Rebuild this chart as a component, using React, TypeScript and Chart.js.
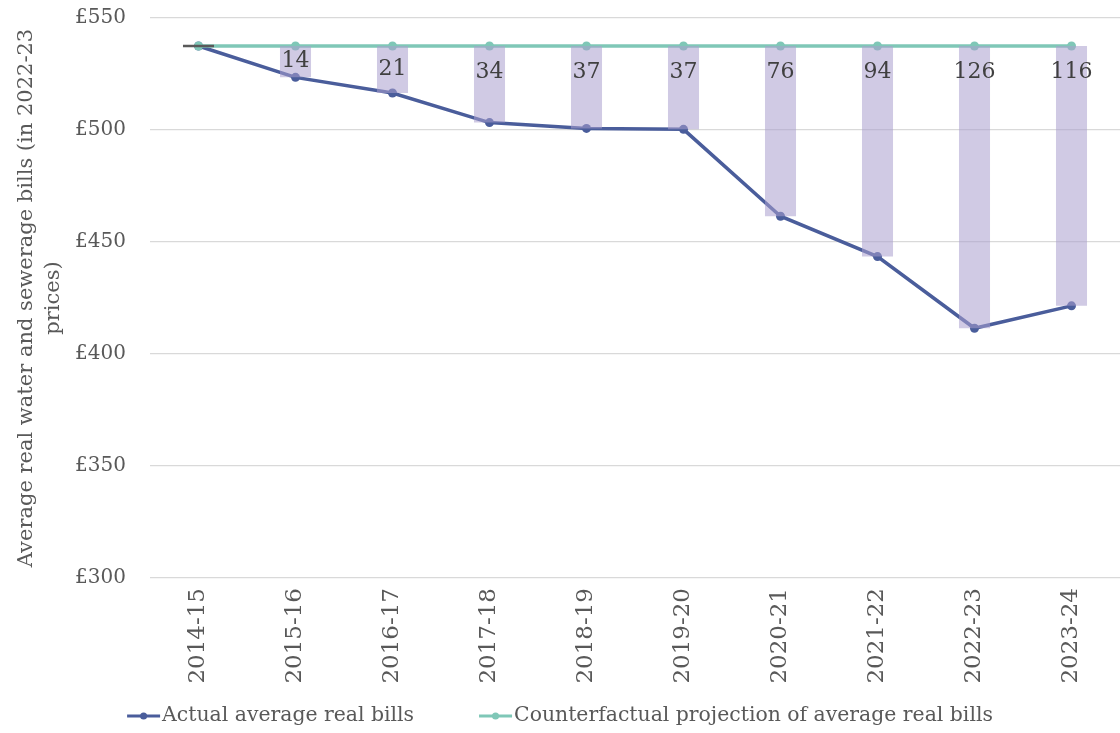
import React, { useEffect, useRef } from 'react';
import { Chart, registerables } from 'chart.js';

Chart.register(...registerables);

const categories = ['2014-15', '2015-16', '2016-17', '2017-18', '2018-19', '2019-20', '2020-21', '2021-22', '2022-23', '2023-24'];
const actualBills = [537.5, 523.5, 516.5, 503.3, 500.7, 500.3, 461.5, 443.5, 411.5, 421.5];
const counterfactualBills = [537.5, 537.5, 537.5, 537.5, 537.5, 537.5, 537.5, 537.5, 537.5, 537.5];
const gapLabels = [0, 14, 21, 34, 37, 37, 76, 94, 126, 116];
const yMin = 300;
const yMax = 550;
const yStep = 50;
const yTitle = ['Average real water and sewerage bills (in 2022-23', 'prices)'];
const seriesNames = ['Actual average real bills', 'Counterfactual projection of average real bills'];

const FONT = "'DejaVu Serif', serif";
const NAVY = '#4a5d9b';
const TEAL = '#7fc7b7';
const BAR = 'rgba(170,158,205,0.55)';

const gapPlugin = {
  id: 'gapLabels',
  afterDatasetsDraw(chart: any) {
    const ctx = chart.ctx;
    const meta = chart.getDatasetMeta(0);
    ctx.save();
    meta.data.forEach((el: any, i: number) => {
      const gap = gapLabels[i];
      const top = Math.min(el.y, el.base);
      const bottom = Math.max(el.y, el.base);
      if (!gap) {
        ctx.strokeStyle = '#595959';
        ctx.lineWidth = 2.5;
        ctx.beginPath();
        ctx.moveTo(el.x - el.width / 2, top);
        ctx.lineTo(el.x + el.width / 2, top);
        ctx.stroke();
        return;
      }
      const y = Math.min((top + bottom) / 2, top + 26);
      ctx.fillStyle = '#404040';
      ctx.font = `22px ${FONT}`;
      ctx.textAlign = 'center';
      ctx.textBaseline = 'middle';
      ctx.fillText(String(gap), el.x, y);
    });
    ctx.restore();
  },
};

const legendPlugin = {
  id: 'customLegend',
  afterDraw(chart: any) {
    const ctx = chart.ctx;
    const items = chart.data.datasets.filter((d: any) => d.inLegend);
    const markerW = 33;
    const textGap = 2;
    const itemGap = 65;
    ctx.save();
    ctx.font = `20.4px ${FONT}`;
    const widths = items.map((d: any) => markerW + textGap + ctx.measureText(d.label).width);
    const total = widths.reduce((a: number, b: number) => a + b, 0) + itemGap * (items.length - 1);
    let x = chart.width / 2 - total / 2;
    const y = 716;
    items.forEach((d: any, i: number) => {
      ctx.strokeStyle = d.borderColor;
      ctx.lineWidth = 3;
      ctx.beginPath();
      ctx.moveTo(x, y);
      ctx.lineTo(x + markerW, y);
      ctx.stroke();
      ctx.fillStyle = d.borderColor;
      ctx.beginPath();
      ctx.arc(x + markerW / 2, y, 3.5, 0, Math.PI * 2);
      ctx.fill();
      ctx.fillStyle = '#595959';
      ctx.textAlign = 'left';
      ctx.textBaseline = 'middle';
      ctx.fillText(d.label, x + markerW + textGap, y);
      x += widths[i] + itemGap;
    });
    ctx.restore();
  },
};

export default function App() {
  const ref = useRef<HTMLCanvasElement>(null);
  useEffect(() => {
    if (!ref.current) return;
    const chart = new Chart(ref.current, {
      type: 'bar',
      data: {
        labels: categories,
        datasets: [
          {
            type: 'bar',
            label: 'Gap',
            data: categories.map((_, i) => [actualBills[i], counterfactualBills[i]]) as any,
            backgroundColor: BAR,
            borderWidth: 0,
            barPercentage: 0.32,
            categoryPercentage: 1,
            order: 0,
          } as any,
          {
            type: 'line',
            label: seriesNames[0],
            data: actualBills,
            borderColor: NAVY,
            backgroundColor: NAVY,
            borderWidth: 3.5,
            pointRadius: 4.5,
            pointBorderWidth: 0,
            pointBackgroundColor: NAVY,
            tension: 0,
            order: 2,
            inLegend: true,
          } as any,
          {
            type: 'line',
            label: seriesNames[1],
            data: counterfactualBills,
            borderColor: TEAL,
            backgroundColor: TEAL,
            borderWidth: 3.5,
            pointRadius: 4.5,
            pointBorderWidth: 0,
            pointBackgroundColor: TEAL,
            tension: 0,
            order: 1,
            inLegend: true,
          } as any,
        ],
      },
      options: {
        animation: false,
        responsive: false,
        maintainAspectRatio: false,
        layout: { autoPadding: false, padding: { top: 18, left: 0, right: 0, bottom: 40 } },
        plugins: {
          legend: { display: false },
          tooltip: { enabled: false },
        },
        scales: {
          x: {
            grid: { display: false, drawTicks: false },
            border: { display: false },
            ticks: {
              color: '#595959',
              font: { family: FONT, size: 23 },
              minRotation: 90,
              maxRotation: 90,
              padding: 10,
            },
            afterFit(scale: any) {
              scale.height = 115;
              scale.paddingLeft = 0;
              scale.paddingRight = 0;
            },
          },
          y: {
            min: yMin,
            max: yMax,
            grid: { color: '#d9d9d9', lineWidth: 1.3, drawTicks: false },
            border: { display: false },
            ticks: {
              stepSize: yStep,
              color: '#595959',
              font: { family: FONT, size: 20 },
              padding: 24,
              callback: (v: any) => '£' + v,
            },
            title: {
              display: true,
              text: yTitle,
              color: '#595959',
              font: { family: FONT, size: 21, lineHeight: 1.3 },
              padding: { top: 13, bottom: 0 },
            },
            afterFit(scale: any) {
              scale.width = 150;
              scale.paddingTop = 0;
              scale.paddingBottom = 0;
            },
          },
        },
      },
      plugins: [gapPlugin, legendPlugin],
    } as any);
    return () => chart.destroy();
  }, []);
  return (
    <div style={{ position: 'fixed', left: 0, top: 0, width: 1120, height: 733, background: '#fff' }}>
      <canvas ref={ref} width={1120} height={733} style={{ width: 1120, height: 733 }} />
    </div>
  );
}
